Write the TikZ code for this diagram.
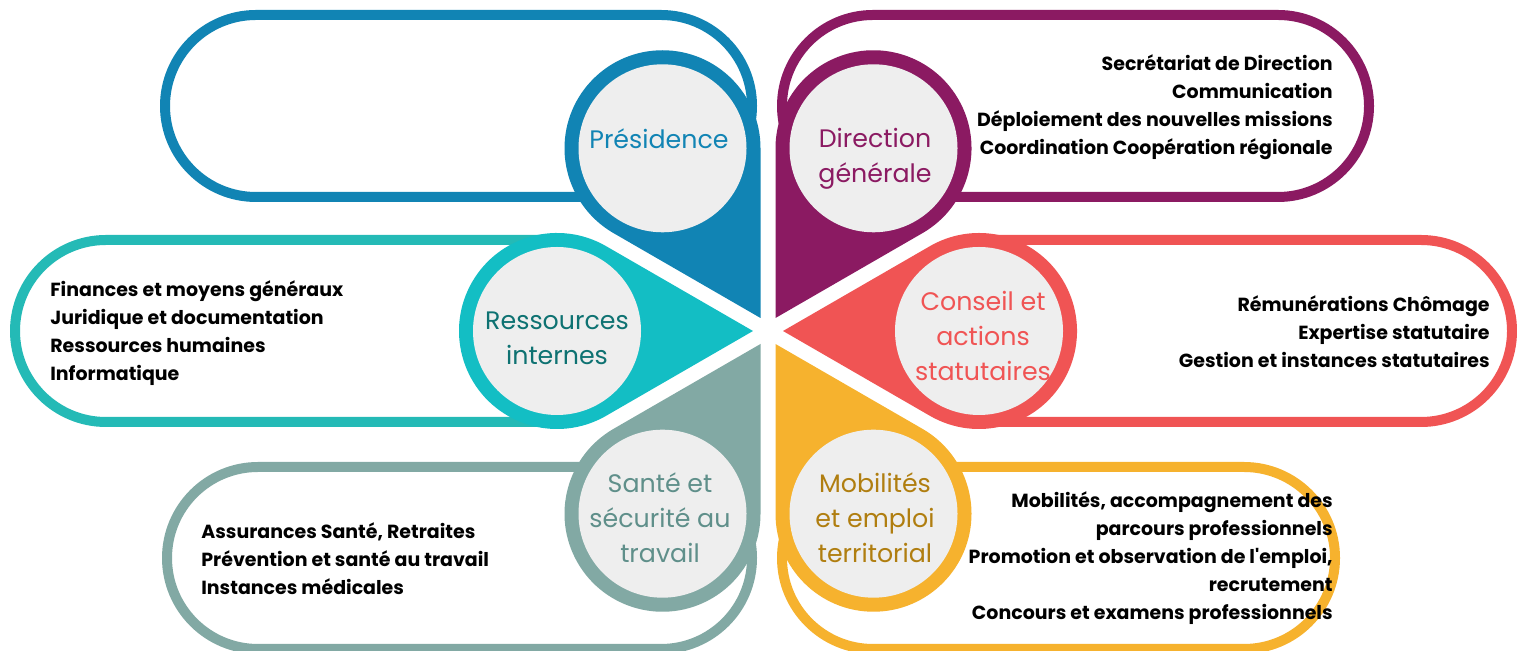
\documentclass[tikz,border=0pt]{standalone}
\usepackage{fontspec}
\setmainfont{Poppins}
\usepackage{xcolor}
\definecolor{presblue}{HTML}{1184B4}
\definecolor{dirpurple}{HTML}{8B1A62}
\definecolor{conred}{HTML}{F05454}
\definecolor{resteal}{HTML}{13BEC4}
\definecolor{restealframe}{HTML}{24BAB6}
\definecolor{restealtext}{HTML}{0E7272}
\definecolor{santegreen}{HTML}{82A9A4}
\definecolor{santetext}{HTML}{5F8F8A}
\definecolor{mobyellow}{HTML}{F6B22E}
\definecolor{mobtext}{HTML}{B07E10}
\definecolor{discgray}{HTML}{EEEEEE}

\begin{document}
\begin{tikzpicture}[x=0.02cm,y=0.02cm,
  stadium/.style={line width=0.2cm,rounded corners=1.82cm,fill=white},
  disc/.style={fill=discgray},
  unittext/.style={align=center,inner sep=0pt,font=\fontsize{14.4}{19.9}\selectfont},
  listtext/.style={inner sep=0pt,font=\fontsize{10.8}{15.9}\selectfont\bfseries}]
\useasboundingbox (0,0) rectangle (1517,651);
\clip (0,0) rectangle (1517,651);
%%%%%%%%%%%%%%%%
\draw[stadium,draw=presblue] (165,454) rectangle (752,636);
\fill[presblue] (760.5,333) -- ++(90:169.74) arc[start angle=0,end angle=240,radius=98] -- cycle;
\fill[disc] (662.5,502.7) circle[radius=84];
\node[unittext,text=presblue] (pres) at (659,512) {Présidence};
%%%%%%%%%%%%%%%%
\draw[stadium,draw=dirpurple] (782,454) rectangle (1369,636);
\fill[dirpurple] (775.5,333) -- ++(30:169.74) arc[start angle=-60,end angle=180,radius=98] -- cycle;
\fill[disc] (873.5,502.7) circle[radius=84];
\node[unittext,text=dirpurple] (dirgen) at (875,492) {Direction\\générale};
\node[listtext,anchor=east,align=right] (dirgenlist) at (1333,544)
{Secrétariat de Direction\\Communication\\Déploiement des nouvelles missions\\Coordination Coopération régionale};
%%%%%%%%%%%%%%%%
\draw[stadium,draw=restealframe] (15,229) rectangle (648,411);
\fill[resteal] (753,320) -- ++(150:169.74) arc[start angle=60,end angle=300,radius=98] -- cycle;
\fill[disc] (557,320) circle[radius=84];
\node[unittext,text=restealtext] (resint) at (557,313) {Ressources\\internes};
\node[listtext,anchor=west,align=left] (resintlist) at (50,318)
{Finances et moyens généraux\\Juridique et documentation\\Ressources humaines\\Informatique};
%%%%%%%%%%%%%%%%
\draw[stadium,draw=conred] (888,229) rectangle (1512,411);
\fill[conred] (783,320) -- ++(-30:169.74) arc[start angle=-120,end angle=120,radius=98] -- cycle;
\fill[disc] (979,320) circle[radius=84];
\node[unittext,text=conred] (conseil) at (983,315) {Conseil et\\actions\\statutaires};
\node[listtext,anchor=east,align=right] (conseillist) at (1490,319)
{Rémunérations Chômage\\Expertise statutaire\\Gestion et instances statutaires};
%%%%%%%%%%%%%%%%
\draw[stadium,draw=santegreen] (167,2) rectangle (752,184);
\fill[santegreen] (760.5,307) -- ++(-150:169.74) arc[start angle=-240,end angle=0,radius=98] -- cycle;
\fill[disc] (662.5,137.3) circle[radius=84];
\node[unittext,text=santetext] (sante) at (660,133) {Santé et\\sécurité au\\travail};
\node[listtext,anchor=west,align=left] (santelist) at (201,92)
{Assurances Santé, Retraites\\Prévention et santé au travail\\Instances médicales};
%%%%%%%%%%%%%%%%
\draw[stadium,draw=mobyellow] (782,2) rectangle (1335,184);
\fill[mobyellow] (775.5,307) -- ++(-90:169.74) arc[start angle=-180,end angle=60,radius=98] -- cycle;
\fill[disc] (873.5,137.3) circle[radius=84];
\node[unittext,text=mobtext] (mobil) at (875,133) {Mobilités\\et emploi\\territorial};
\node[listtext,anchor=east,align=right] (mobillist) at (1333,93)
{Mobilités, accompagnement des\\parcours professionnels\\Promotion et observation de l\textquotesingle emploi,\\recrutement\\Concours et examens professionnels};
\end{tikzpicture}
\end{document}
